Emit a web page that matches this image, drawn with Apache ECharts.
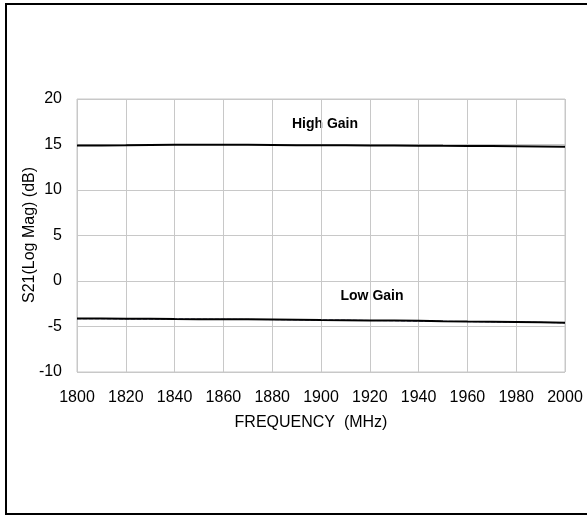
<!DOCTYPE html>
<html>
<head>
<meta charset="utf-8">
<script src="https://cdn.jsdelivr.net/npm/echarts@6/dist/echarts.min.js"></script>
<style>
html,body{margin:0;padding:0;background:#fff;overflow:hidden;}
#c{width:587px;height:516px;}
</style>
</head>
<body>
<div id="c"></div>
<script>
var freq = [1800,1810,1820,1830,1840,1850,1860,1870,1880,1890,1900,1910,1920,1930,1940,1950,1960,1970,1980,1990,2000];
var highGain = [14.90,14.90,14.91,14.94,14.96,14.97,14.97,14.96,14.95,14.93,14.92,14.91,14.90,14.89,14.87,14.85,14.84,14.83,14.81,14.79,14.76];
var lowGain = [-4.12,-4.13,-4.15,-4.16,-4.18,-4.19,-4.20,-4.21,-4.22,-4.25,-4.28,-4.30,-4.33,-4.35,-4.38,-4.42,-4.45,-4.47,-4.50,-4.54,-4.58];
var lowGainAlt = [-4.14,-4.14,-4.16,-4.17,-4.18,-4.20,-4.21,-4.22,-4.24,-4.26,-4.29,-4.31,-4.34,-4.36,-4.40,-4.43,-4.46,-4.48,-4.52,-4.55,-4.59];
var yTicks = [-10,-5,0,5,10,15,20];
var xTicks = [1800,1820,1840,1860,1880,1900,1920,1940,1960,1980,2000];

function pairs(xs, ys){ return xs.map(function(x,i){return [x, ys[i]];}); }

var chart = echarts.init(document.getElementById('c'), null, {renderer:'canvas'});
var font = 'Liberation Sans, Arial, sans-serif';
chart.setOption({
  animation:false,
  backgroundColor:'#fff',
  grid:{left:77,right:22,top:99,bottom:144,containLabel:false,show:true,borderColor:'#c8c8c8',borderWidth:1},
  xAxis:{type:'value',min:1800,max:2000,interval:20,
    axisLine:{show:false},axisTick:{show:false},
    splitLine:{show:true,lineStyle:{color:'#c8c8c8',width:1}},
    axisLabel:{color:'#000',fontFamily:font,fontSize:16,margin:18,
      formatter:function(v){return xTicks.indexOf(v)>=0?String(v):'';}}},
  yAxis:{type:'value',min:-10,max:20,interval:5,
    axisLine:{show:false},axisTick:{show:false},
    splitLine:{show:true,lineStyle:{color:'#c8c8c8',width:1}},
    axisLabel:{color:'#000',fontFamily:font,fontSize:16,margin:15,
      formatter:function(v){return yTicks.indexOf(v)>=0?String(v):'';}}},
  series:[
    {type:'line',data:pairs(freq,lowGainAlt),symbol:'none',lineStyle:{color:'#2a2a80',width:1,type:'dashed'},z:2},
    {type:'line',data:pairs(freq,highGain),symbol:'none',lineStyle:{color:'#000',width:2},z:3},
    {type:'line',data:pairs(freq,lowGain),symbol:'none',lineStyle:{color:'#000',width:2},z:3}
  ],
  graphic:[
    {type:'rect',shape:{x:6,y:4,width:700,height:510},style:{fill:'none',stroke:'#000',lineWidth:2},z:10},
    {type:'text',x:30,y:235,rotation:Math.PI/2,style:{text:'S21(Log Mag) (dB)',font:'16px '+font,fill:'#000',textAlign:'center',textVerticalAlign:'middle'}},
    {type:'text',x:311,y:423,style:{text:'FREQUENCY  (MHz)',font:'16px '+font,fill:'#000',textAlign:'center',textVerticalAlign:'middle'}},
    {type:'text',x:325,y:124,style:{text:'High Gain',font:'bold 14px '+font,fill:'#000',textAlign:'center',textVerticalAlign:'middle'}},
    {type:'text',x:372,y:296,style:{text:'Low Gain',font:'bold 14px '+font,fill:'#000',textAlign:'center',textVerticalAlign:'middle'}}
  ]
});
</script>
</body>
</html>
